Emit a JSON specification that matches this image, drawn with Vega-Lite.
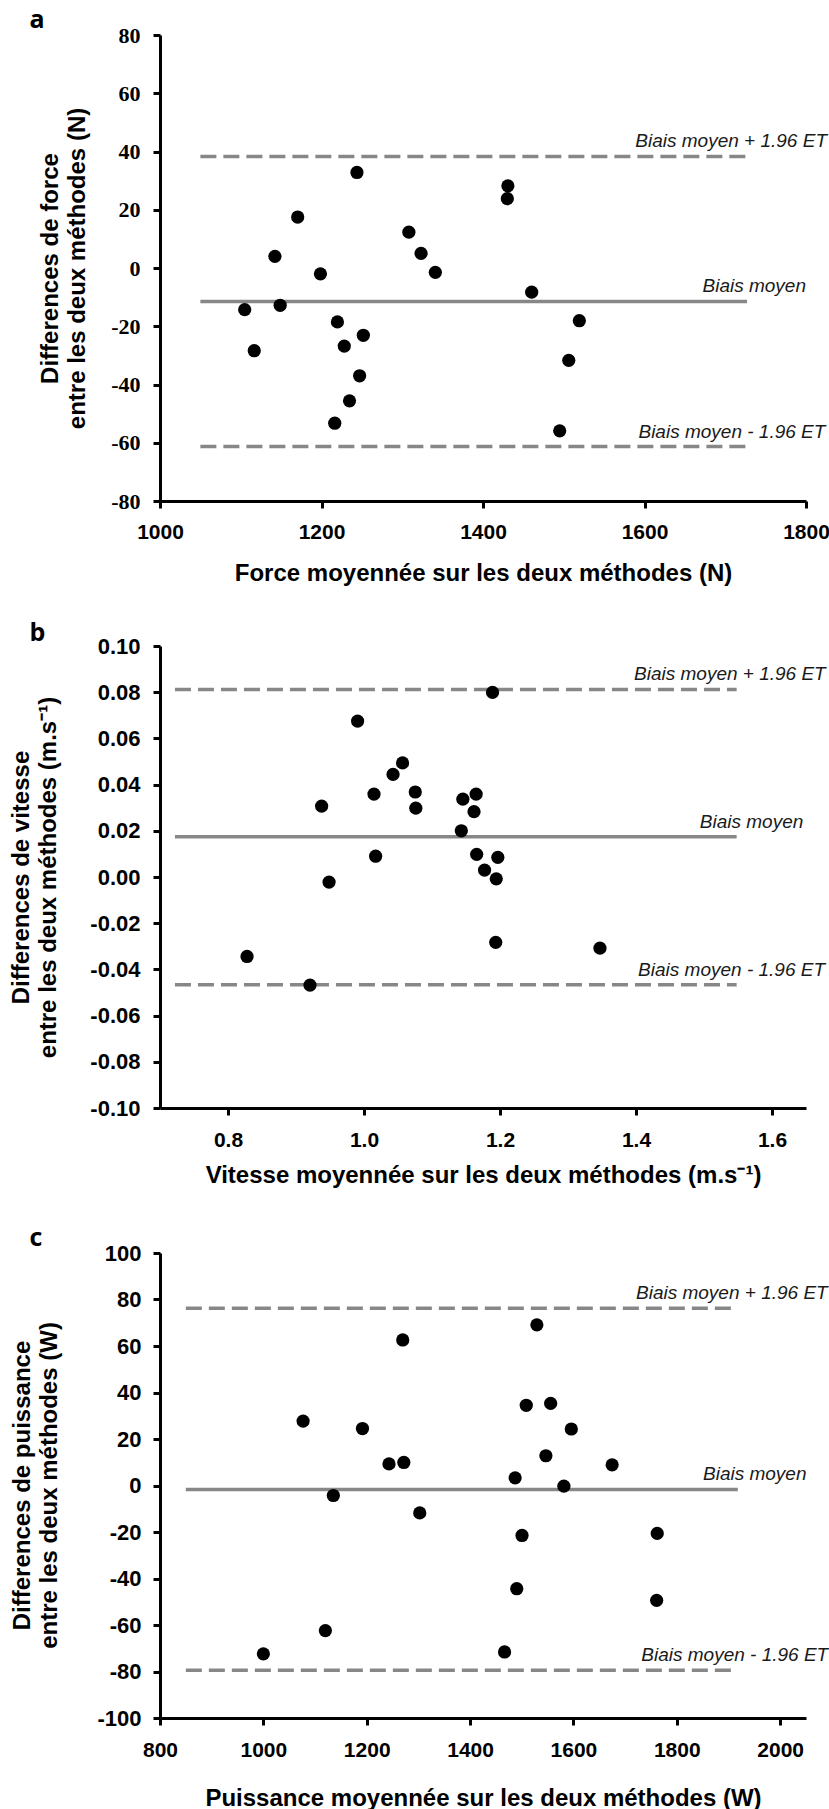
{
  "$schema": "https://vega.github.io/schema/vega-lite/v6.json",
  "padding": {"left": 9, "top": 7, "right": 0, "bottom": 0},
  "background": "white",
  "bounds": "flush",
  "spacing": 145,
  "datasets": {
    "aP": [
      {"x": 1104.9, "y": -14.3}, {"x": 1116.7, "y": -28.4}, {"x": 1142.3, "y": 4.0}, {"x": 1148.8, "y": -12.8},
      {"x": 1170.5, "y": 17.5}, {"x": 1198.7, "y": -2.0}, {"x": 1219.7, "y": -18.5}, {"x": 1216.4, "y": -53.3},
      {"x": 1228.2, "y": -26.8}, {"x": 1234.7, "y": -45.6}, {"x": 1243.9, "y": 32.8}, {"x": 1247.2, "y": -37.0},
      {"x": 1251.8, "y": -23.1}, {"x": 1308.2, "y": 12.3}, {"x": 1323.3, "y": 5.0}, {"x": 1341.0, "y": -1.5},
      {"x": 1430.8, "y": 28.2}, {"x": 1430.1, "y": 23.8}, {"x": 1460.3, "y": -8.3}, {"x": 1495.0, "y": -55.9},
      {"x": 1506.2, "y": -31.7}, {"x": 1519.3, "y": -18.1}
    ],
    "aL": [
      {"x": 1050, "xe": 1727, "y": 38.3, "kind": "dash"},
      {"x": 1050, "xe": 1727, "y": -11.5, "kind": "solid"},
      {"x": 1050, "xe": 1727, "y": -61.3, "kind": "dash"}
    ],
    "aT": [
      {"x": 1826, "y": 38.3, "t": "Biais moyen + 1.96 ET"},
      {"x": 1800, "y": -11.5, "t": "Biais moyen"},
      {"x": 1824, "y": -61.3, "t": "Biais moyen - 1.96 ET"}
    ],
    "bP": [
      {"x": 0.828, "y": -0.0344}, {"x": 0.9206, "y": -0.0468}, {"x": 0.9377, "y": 0.0307}, {"x": 0.9486, "y": -0.0022},
      {"x": 0.9906, "y": 0.0675}, {"x": 1.0147, "y": 0.0359}, {"x": 1.0171, "y": 0.009}, {"x": 1.0427, "y": 0.0444},
      {"x": 1.0567, "y": 0.0494}, {"x": 1.0754, "y": 0.0368}, {"x": 1.0762, "y": 0.0298}, {"x": 1.1431, "y": 0.02},
      {"x": 1.1454, "y": 0.0337}, {"x": 1.1618, "y": 0.0283}, {"x": 1.1649, "y": 0.0359}, {"x": 1.1657, "y": 0.0098},
      {"x": 1.1773, "y": 0.003}, {"x": 1.189, "y": 0.0799}, {"x": 1.1945, "y": -0.0008}, {"x": 1.1968, "y": 0.0085},
      {"x": 1.1937, "y": -0.0283}, {"x": 1.347, "y": -0.0308}
    ],
    "bL": [
      {"x": 0.722, "xe": 1.548, "y": 0.0812, "kind": "dash"},
      {"x": 0.722, "xe": 1.548, "y": 0.0174, "kind": "solid"},
      {"x": 0.722, "xe": 1.548, "y": -0.0466, "kind": "dash"}
    ],
    "bT": [
      {"x": 1.679, "y": 0.0812, "t": "Biais moyen + 1.96 ET"},
      {"x": 1.646, "y": 0.0174, "t": "Biais moyen"},
      {"x": 1.678, "y": -0.0466, "t": "Biais moyen - 1.96 ET"}
    ],
    "cP": [
      {"x": 1000, "y": -72.4}, {"x": 1076.9, "y": 27.7}, {"x": 1120, "y": -62.4}, {"x": 1135.4, "y": -4.3},
      {"x": 1191.8, "y": 24.5}, {"x": 1243.1, "y": 9.3}, {"x": 1269.7, "y": 62.6}, {"x": 1271.8, "y": 9.9},
      {"x": 1302.6, "y": -11.8}, {"x": 1466.7, "y": -71.6}, {"x": 1487.2, "y": 3.3}, {"x": 1490.3, "y": -44.4},
      {"x": 1500.5, "y": -21.5}, {"x": 1508.7, "y": 34.5}, {"x": 1529.2, "y": 69.1}, {"x": 1546.7, "y": 12.8},
      {"x": 1555.9, "y": 35.3}, {"x": 1581.5, "y": -0.3}, {"x": 1595.9, "y": 24.3}, {"x": 1674.9, "y": 8.9},
      {"x": 1762.1, "y": -20.6}, {"x": 1761.0, "y": -49.4}
    ],
    "cL": [
      {"x": 850, "xe": 1918, "y": 76.2, "kind": "dash"},
      {"x": 850, "xe": 1918, "y": -1.7, "kind": "solid"},
      {"x": 850, "xe": 1918, "y": -79.5, "kind": "dash"}
    ],
    "cT": [
      {"x": 2092, "y": 76.2, "t": "Biais moyen + 1.96 ET"},
      {"x": 2051, "y": -1.7, "t": "Biais moyen"},
      {"x": 2093, "y": -79.5, "t": "Biais moyen - 1.96 ET"}
    ]
  },
  "vconcat": [
    {
      "width": 646,
      "height": 466,
      "resolve": {"axis": {"x": "independent"}},
      "encoding": {
        "y": {"field": "y", "type": "quantitative", "scale": {"domain": [-80, 80], "nice": false, "zero": false},
          "axis": {"title": ["Differences de force", "entre les deux méthodes (N)"], "values": [-80, -60, -40, -20, 0, 20, 40, 60, 80],
            "labelExpr": "datum.value < 0 ? '-' + format(-datum.value, 'd') : format(datum.value, 'd')",
            "labelFont": "Liberation Serif", "labelFontSize": 22, "labelPadding": 13,
            "titleFontSize": 24, "titleLineHeight": 27, "titleX": -103, "titleY": 233, "titleAngle": 270, "titleBaseline": "alphabetic", "titleAlign": "center"}}
      },
      "layer": [
        {"data": {"name": "aL"}, "mark": {"type": "rule", "color": "#878787", "strokeWidth": 3.5},
          "encoding": {
            "x": {"field": "x", "type": "quantitative", "scale": {"domain": [1000, 1800], "nice": false, "zero": false},
              "axis": {"orient": "top", "labels": false, "ticks": false, "domain": false, "title": "a", "titleX": -131, "titleY": -8, "titleAlign": "left", "titleBaseline": "alphabetic", "titleAngle": 0, "titleFont": "Open Sans", "titleFontSize": 25, "titleFontWeight": "bold"}},
            "x2": {"field": "xe"},
            "strokeDash": {"field": "kind", "type": "nominal", "scale": {"domain": ["solid", "dash"], "range": [[1, 0], [16, 7]]}, "legend": null}}},
        {"data": {"name": "aP"}, "mark": {"type": "circle", "size": 175, "color": "black", "opacity": 1},
          "encoding": {
            "x": {"field": "x", "type": "quantitative", "scale": {"domain": [1000, 1800], "nice": false, "zero": false},
              "axis": {"title": "Force moyennée sur les deux méthodes (N)", "values": [1000, 1200, 1400, 1600, 1800], "format": "d",
                "labelFontSize": 21, "labelBaseline": "alphabetic", "labelPadding": 30,
                "titleFontSize": 24, "titleY": 79, "titleBaseline": "alphabetic"}}}},
        {"data": {"name": "aT"}, "mark": {"type": "text", "align": "right", "baseline": "alphabetic", "dy": -9, "font": "Liberation Sans", "fontStyle": "italic", "fontSize": 19, "color": "#1a1a1a"},
          "encoding": {
            "x": {"field": "x", "type": "quantitative", "scale": {"domain": [1000, 1800], "nice": false, "zero": false}, "axis": null},
            "text": {"field": "t"}}}
      ]
    },
    {
      "width": 646,
      "height": 462,
      "resolve": {"axis": {"x": "independent"}},
      "encoding": {
        "y": {"field": "y", "type": "quantitative", "scale": {"domain": [-0.1, 0.1], "nice": false, "zero": false},
          "axis": {"title": ["Differences de vitesse", "entre les deux méthodes (m.s⁻¹)"], "values": [-0.1, -0.08, -0.06, -0.04, -0.02, 0, 0.02, 0.04, 0.06, 0.08, 0.1],
            "labelExpr": "datum.value < -0.0001 ? '-' + format(-datum.value, '.2f') : format(abs(datum.value), '.2f')",
            "labelFontSize": 22, "labelPadding": 13,
            "titleFontSize": 24, "titleLineHeight": 27, "titleX": -132, "titleY": 231, "titleAngle": 270, "titleBaseline": "alphabetic", "titleAlign": "center"}}
      },
      "layer": [
        {"data": {"name": "bL"}, "mark": {"type": "rule", "color": "#878787", "strokeWidth": 3.5},
          "encoding": {
            "x": {"field": "x", "type": "quantitative", "scale": {"domain": [0.7, 1.65], "nice": false, "zero": false},
              "axis": {"orient": "top", "labels": false, "ticks": false, "domain": false, "title": "b", "titleX": -131, "titleY": -6, "titleAlign": "left", "titleBaseline": "alphabetic", "titleAngle": 0, "titleFont": "Open Sans", "titleFontSize": 25, "titleFontWeight": "bold"}},
            "x2": {"field": "xe"},
            "strokeDash": {"field": "kind", "type": "nominal", "scale": {"domain": ["solid", "dash"], "range": [[1, 0], [16, 7]]}, "legend": null}}},
        {"data": {"name": "bP"}, "mark": {"type": "circle", "size": 175, "color": "black", "opacity": 1},
          "encoding": {
            "x": {"field": "x", "type": "quantitative", "scale": {"domain": [0.7, 1.65], "nice": false, "zero": false},
              "axis": {"title": "Vitesse moyennée sur les deux méthodes (m.s⁻¹)", "values": [0.8, 1.0, 1.2, 1.4, 1.6], "format": ".1f",
                "labelFontSize": 21, "labelBaseline": "alphabetic", "labelPadding": 31,
                "titleFontSize": 24, "titleY": 74, "titleBaseline": "alphabetic"}}}},
        {"data": {"name": "bT"}, "mark": {"type": "text", "align": "right", "baseline": "alphabetic", "dy": -9, "font": "Liberation Sans", "fontStyle": "italic", "fontSize": 19, "color": "#1a1a1a"},
          "encoding": {
            "x": {"field": "x", "type": "quantitative", "scale": {"domain": [0.7, 1.65], "nice": false, "zero": false}, "axis": null},
            "text": {"field": "t"}}}
      ]
    },
    {
      "width": 646,
      "height": 465,
      "resolve": {"axis": {"x": "independent"}},
      "encoding": {
        "y": {"field": "y", "type": "quantitative", "scale": {"domain": [-100, 100], "nice": false, "zero": false},
          "axis": {"title": ["Differences de puissance", "entre les deux méthodes (W)"], "values": [-100, -80, -60, -40, -20, 0, 20, 40, 60, 80, 100],
            "labelExpr": "datum.value < 0 ? '-' + format(-datum.value, 'd') : format(datum.value, 'd')",
            "labelFontSize": 22, "labelPadding": 12,
            "titleFontSize": 24, "titleLineHeight": 27, "titleX": -131, "titleY": 232, "titleAngle": 270, "titleBaseline": "alphabetic", "titleAlign": "center"}}
      },
      "layer": [
        {"data": {"name": "cL"}, "mark": {"type": "rule", "color": "#878787", "strokeWidth": 3.5},
          "encoding": {
            "x": {"field": "x", "type": "quantitative", "scale": {"domain": [800, 2050], "nice": false, "zero": false},
              "axis": {"orient": "top", "labels": false, "ticks": false, "domain": false, "title": "c", "titleX": -131, "titleY": -8, "titleAlign": "left", "titleBaseline": "alphabetic", "titleAngle": 0, "titleFont": "Open Sans", "titleFontSize": 25, "titleFontWeight": "bold"}},
            "x2": {"field": "xe"},
            "strokeDash": {"field": "kind", "type": "nominal", "scale": {"domain": ["solid", "dash"], "range": [[1, 0], [16, 7]]}, "legend": null}}},
        {"data": {"name": "cP"}, "mark": {"type": "circle", "size": 175, "color": "black", "opacity": 1},
          "encoding": {
            "x": {"field": "x", "type": "quantitative", "scale": {"domain": [800, 2050], "nice": false, "zero": false},
              "axis": {"title": "Puissance moyennée sur les deux méthodes (W)", "values": [800, 1000, 1200, 1400, 1600, 1800, 2000], "format": "d",
                "labelFontSize": 21, "labelBaseline": "alphabetic", "labelPadding": 31,
                "titleFontSize": 24, "titleY": 87, "titleBaseline": "alphabetic"}}}},
        {"data": {"name": "cT"}, "mark": {"type": "text", "align": "right", "baseline": "alphabetic", "dy": -9, "font": "Liberation Sans", "fontStyle": "italic", "fontSize": 19, "color": "#1a1a1a"},
          "encoding": {
            "x": {"field": "x", "type": "quantitative", "scale": {"domain": [800, 2050], "nice": false, "zero": false}, "axis": null},
            "text": {"field": "t"}}}
      ]
    }
  ],
  "config": {
    "view": {"stroke": null},
    "axis": {
      "grid": false, "domainColor": "black", "domainWidth": 3, "tickColor": "black", "tickWidth": 3, "tickSize": 7,
      "labelColor": "black", "titleColor": "black", "labelFont": "Liberation Sans", "labelFontWeight": "bold",
      "titleFont": "Liberation Sans", "titleFontWeight": "bold", "labelFlush": false, "labelOverlap": false, "labelBound": false
    }
  }
}
